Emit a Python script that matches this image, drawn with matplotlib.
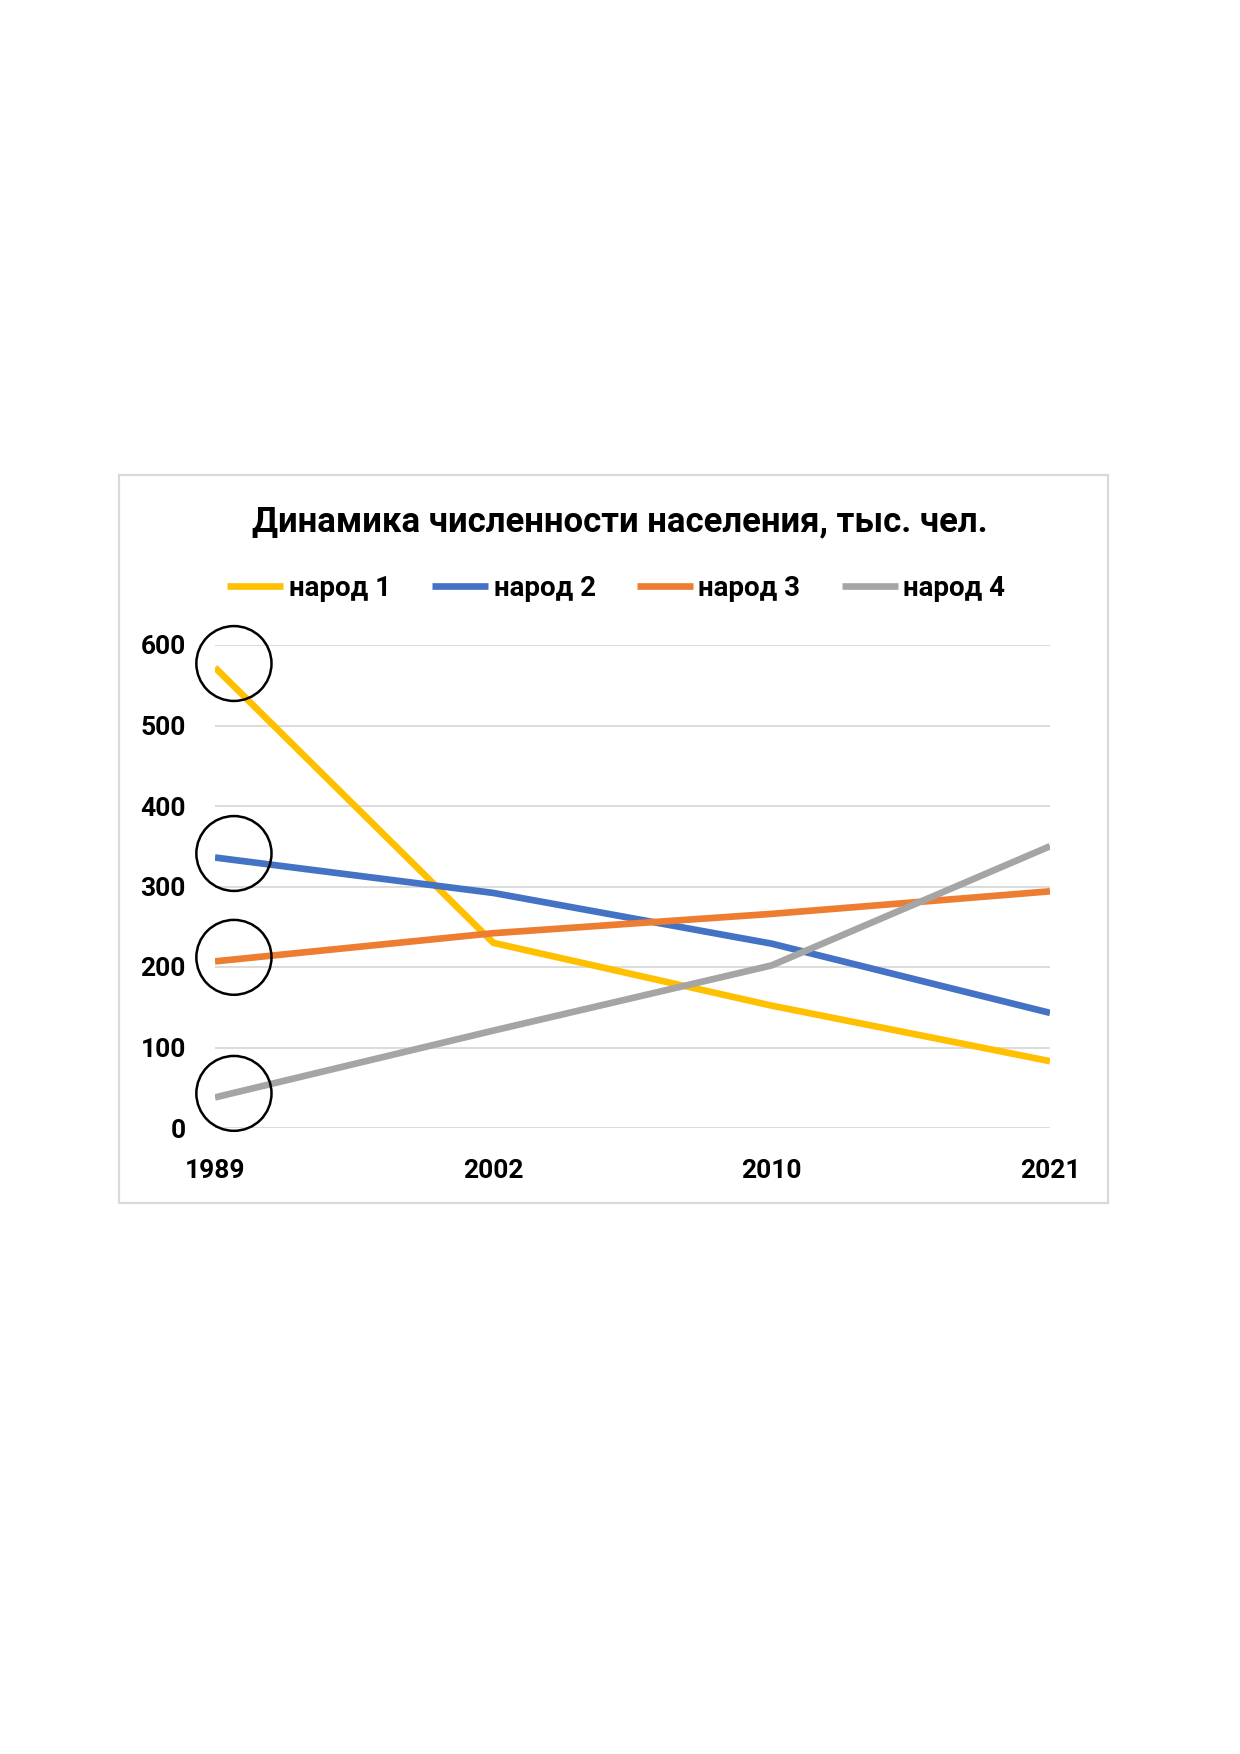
import numpy as np
import matplotlib
matplotlib.use('Agg')
import matplotlib.pyplot as plt
from matplotlib.patches import Ellipse, Rectangle

plt.rcParams['font.family'] = ['Roboto', 'DejaVu Sans']

years = ['1989', '2002', '2010', '2021']
series_names = ['народ 1', 'народ 2', 'народ 3', 'народ 4']
narod1 = [572, 230, 152, 83]
narod2 = [336, 292, 229, 143]
narod3 = [207, 242, 266, 294]
narod4 = [38, 121, 202, 350]
y_ticks = [0, 100, 200, 300, 400, 500, 600]
title = 'Динамика численности населения, тыс. чел.'

colors = ['#FFC000', '#4472C4', '#ED7D31', '#A5A5A5']

W, H = 1240, 1754
fig = plt.figure(figsize=(W / 100, H / 100), dpi=100)

# outer chart frame
fig.patches.append(Rectangle((119 / W, 1 - 1203 / H), (1108 - 119) / W, (1203 - 475) / H,
                             transform=fig.transFigure, fill=False, edgecolor='#d9d9d9', linewidth=1.6))

ax = fig.add_axes([215 / W, 1 - 1128 / H, (1050 - 215) / W, (1128 - 645) / H])
x = np.arange(len(years))
for vals, name, c in zip([narod1, narod2, narod3, narod4], series_names, colors):
    ax.plot(x, vals, color=c, linewidth=4.8, label=name, solid_capstyle='butt', zorder=3)

ax.set_xlim(0, len(years) - 1)
ax.set_ylim(0, 600)
ax.set_yticks(y_ticks)
ax.set_xticks(x)
ax.set_xticklabels(years)
ax.grid(axis='y', color='#d9d9d9', linewidth=1.3)
ax.set_axisbelow(True)
for s in ax.spines.values():
    s.set_visible(False)
ax.tick_params(length=0, labelsize=19)
ax.tick_params(axis='x', pad=22)
ax.tick_params(axis='y', pad=21)
for lab in ax.get_xticklabels() + ax.get_yticklabels():
    lab.set_fontweight('bold')

# hand-drawn circles around the starting values
for vals in [narod1, narod2, narod3, narod4]:
    e = Ellipse((0.068, vals[0] + 5), 0.27, 93, fill=False, edgecolor='black',
                linewidth=1.8, clip_on=False, zorder=4)
    ax.add_patch(e)

fig.text(0.5, 1 - 522 / H, title, ha='center', va='center', fontsize=25, fontweight='bold')
fig.legend(loc='center', bbox_to_anchor=(0.497, 1 - 588 / H), ncol=4, frameon=False,
           handlelength=2.0, handletextpad=0.2, columnspacing=1.5,
           prop={'size': 20, 'weight': 'bold'})

fig.savefig('out.png', dpi=100)
